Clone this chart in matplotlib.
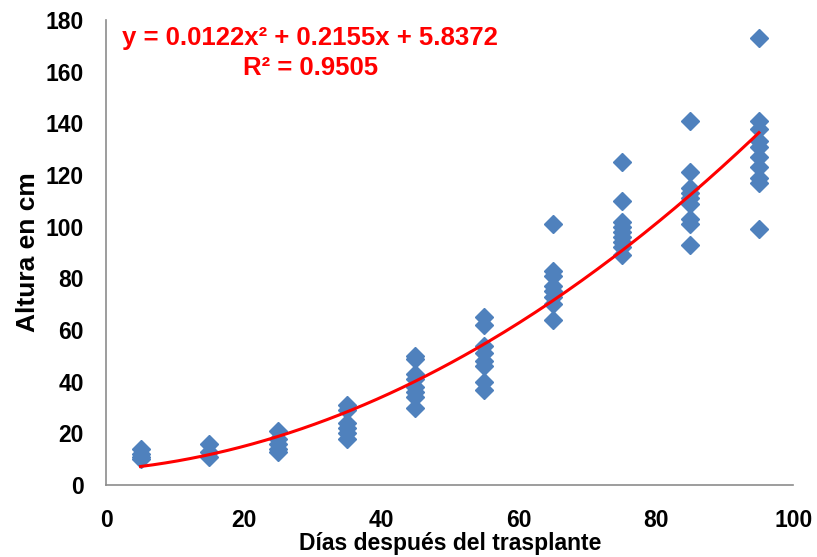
import numpy as np
import matplotlib.pyplot as plt

plt.rcParams['font.family'] = ['Liberation Sans', 'DejaVu Sans']

# días después del trasplante y alturas medidas (cm)
dias = [5, 15, 25, 35, 45, 55, 65, 75, 85, 95]
alturas = [
    [14, 12, 11, 10],
    [16, 13, 11],
    [21, 18, 16, 14, 13],
    [31, 29, 24, 22, 20, 18],
    [50, 49, 43, 41, 38, 36, 34, 30],
    [65, 62, 54, 51, 48, 46, 40, 37],
    [101, 83, 81, 77, 75, 73, 70, 64],
    [125, 110, 102, 100, 98, 96, 94, 92, 89],
    [141, 121, 115, 113, 111, 109, 103, 101, 93],
    [173, 141, 138, 133, 131, 127, 123, 119, 117, 99],
]
coef = [0.0122, 0.2155, 5.8372]
r2 = 0.9505

x = np.concatenate([[d] * len(a) for d, a in zip(dias, alturas)])
y = np.concatenate(alturas)

fig = plt.figure(figsize=(8.17, 5.57), dpi=100)
ax = fig.add_axes([0.130, 0.129, 0.841, 0.835])

ax.plot(x, y, 'D', color='#4F81BD', markersize=9, zorder=2)
xs = np.linspace(min(dias), max(dias), 200)
ax.plot(xs, np.polyval(coef, xs), color='red', lw=2.2, zorder=3)

ax.text(29.7, 173, 'y = 0.0122x² + 0.2155x + 5.8372', color='red',
        fontsize=18.5, fontweight='bold', ha='center', va='center')
ax.text(29.7, 161.5, f'R² = {r2}', color='red',
        fontsize=18.5, fontweight='bold', ha='center', va='center')

ax.set_xlim(0, 100)
ax.set_ylim(0, 180)
ax.set_xticks(range(0, 101, 20))
ax.set_yticks(range(0, 181, 20))
for s in ['top', 'right']:
    ax.spines[s].set_visible(False)
for s in ['left', 'bottom']:
    ax.spines[s].set_color('#8c8c8c')
    ax.spines[s].set_linewidth(1.2)
ax.tick_params(length=0, labelsize=16.5)
ax.tick_params(axis='x', pad=17)
ax.tick_params(axis='y', pad=16)
for lab in ax.get_xticklabels() + ax.get_yticklabels():
    lab.set_fontweight('bold')

ax.set_xlabel('Días después del trasplante', fontsize=16.5, fontweight='bold', labelpad=0)
ax.set_ylabel('Altura en cm', fontsize=19, fontweight='bold', labelpad=4)

fig.savefig('out.png', dpi=100)
